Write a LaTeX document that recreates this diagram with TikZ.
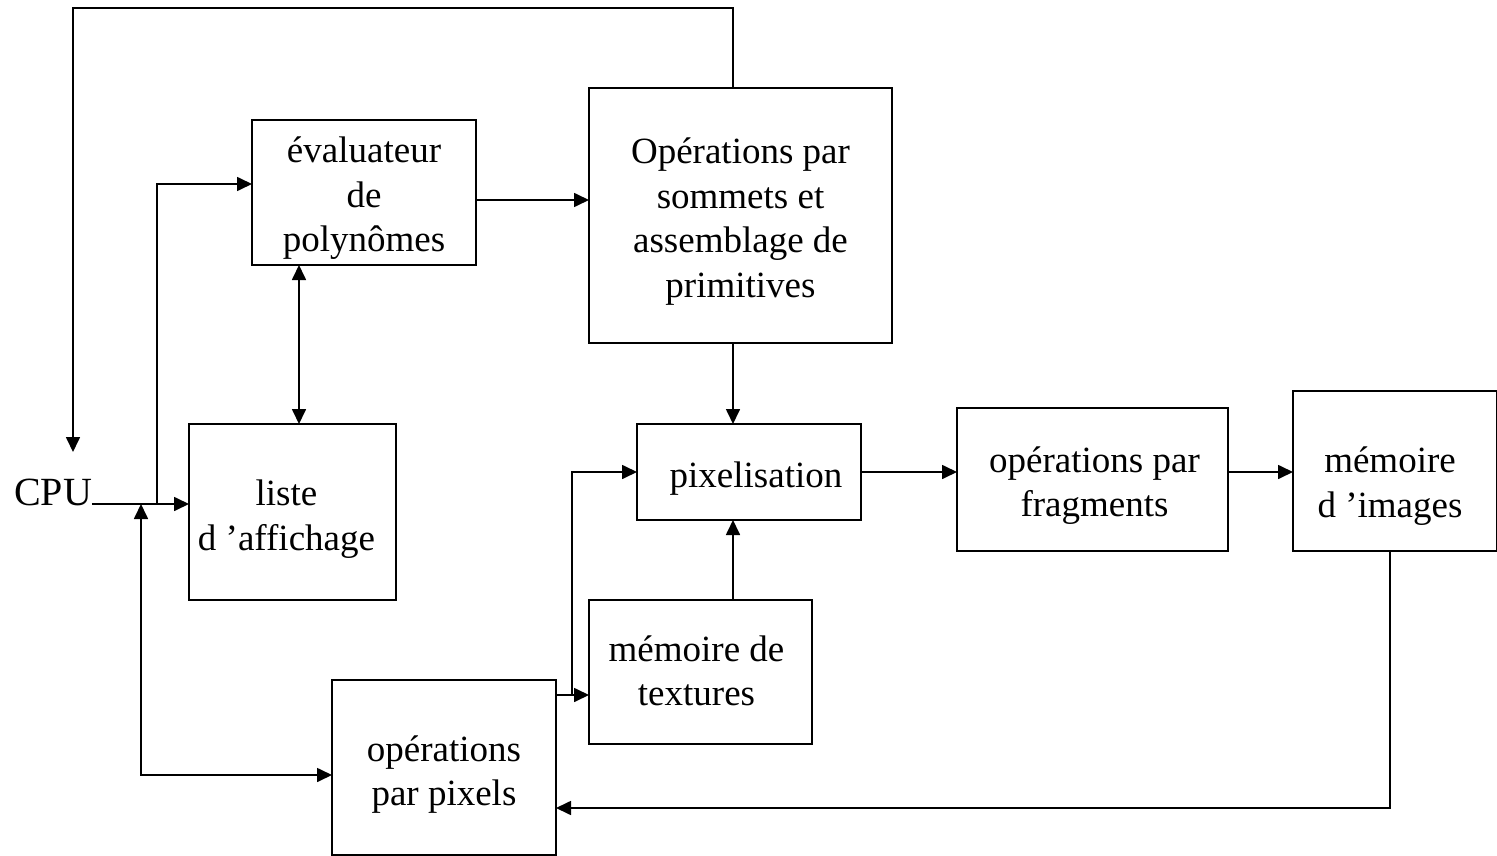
\documentclass[tikz,border=0pt]{standalone}
\usepackage{fontspec}
\setmainfont{Liberation Serif}
\usetikzlibrary{arrows.meta}
\begin{document}
\begin{tikzpicture}[x=1pt,y=-1pt,
  box/.style={draw,line width=1.7pt,inner sep=0pt,outer sep=0pt},
  txt/.style={inner sep=0pt,align=center,font=\fontsize{37}{44.5}\selectfont},
  arr/.style={line width=1.7pt,-{Triangle[length=15pt,width=14pt]}},
  darr/.style={line width=1.7pt,{Triangle[length=15pt,width=14pt]}-{Triangle[length=15pt,width=14pt]}}]
\useasboundingbox (0,0) rectangle (1497,856);
\node[box,minimum width=224pt,minimum height=145pt,
  label={[txt,yshift=-6pt]center:{évaluateur\\de\\polynômes}}] (eval) at (364,192.5) {};
\node[box,minimum width=303pt,minimum height=255pt,
  label={[txt,yshift=-6pt]center:{Opérations par\\sommets et\\assemblage de\\primitives}}] (ops) at (740.5,215.5) {};
\node[box,minimum width=207pt,minimum height=176pt,
  label={[txt,yshift=-7pt,xshift=-6pt]center:{liste\\d ’affichage}}] (liste) at (292.5,512) {};
\node[box,minimum width=224pt,minimum height=96pt,
  label={[txt,yshift=-7pt,xshift=7pt]center:{pixelisation}}] (pix) at (749,472) {};
\node[box,minimum width=271pt,minimum height=143pt,
  label={[txt,yshift=-6pt,xshift=2pt]center:{opérations par\\fragments}}] (frag) at (1092.5,479.5) {};
\node[box,minimum width=204pt,minimum height=160pt,
  label={[txt,yshift=-15pt,xshift=-5pt]center:{mémoire\\d ’images}}] (mimg) at (1395,471) {};
\node[box,minimum width=223pt,minimum height=144pt,
  label={[txt,yshift=1pt,xshift=-4pt]center:{mémoire de\\textures}}] (tex) at (700.5,672) {};
\node[box,minimum width=224pt,minimum height=175pt,
  label={[txt,yshift=-7pt]center:{opérations\\par pixels}}] (opx) at (444,767.5) {};
\node[inner sep=0pt,outer sep=0pt,font=\fontsize{40}{48}\selectfont] (cpu) at (53,492) {CPU};
% connectors
\draw[arr] (ops.north -| 733,0) -- (733,8) -| (73,452);
\draw[arr] (cpu.east |- 0,504) -- (liste.west |- 0,504);
\draw[arr] (157,504) |- (eval.west |- 0,184);
\draw[darr] (eval.south -| 299,0) -- (liste.north -| 299,0);
\draw[arr] (eval.east |- 0,200) -- (ops.west |- 0,200);
\draw[arr] (ops.south -| 733,0) -- (pix.north -| 733,0);
\draw[arr] (pix.east) -- (frag.west |- pix.east);
\draw[arr] (frag.east |- pix.east) -- (mimg.west |- pix.east);
\draw[arr] (mimg.south -| 1390,0) |- (opx.east |- 0,808);
\draw[darr] (141,504) |- (opx.west |- 0,775);
\draw[arr] (opx.east |- 0,695) -- (tex.west |- 0,695);
\draw[arr] (572,695) |- (pix.west);
\draw[arr] (tex.north -| 733,0) -- (pix.south -| 733,0);
\end{tikzpicture}
\end{document}
